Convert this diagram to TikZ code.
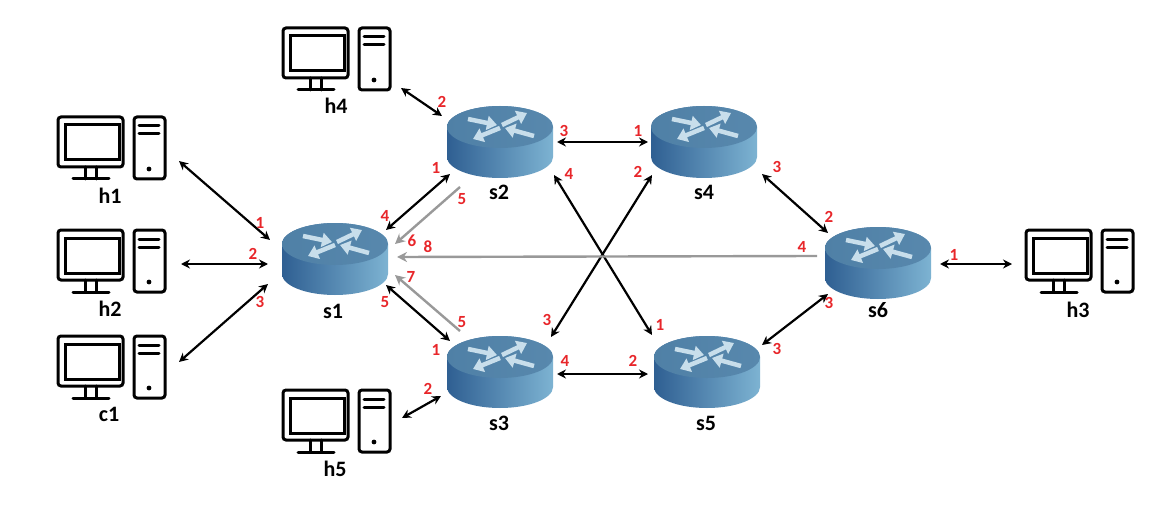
\documentclass[tikz,border=0pt]{standalone}
\usepackage{fontspec}
\setmainfont{Carlito}
\usetikzlibrary{arrows.meta}
\definecolor{rtop}{HTML}{4F80A6}
\definecolor{rtopb}{HTML}{5888AD}
\definecolor{rleft}{HTML}{2F5F92}
\definecolor{rright}{HTML}{7DB3D2}
\definecolor{rarrow}{HTML}{C8DEEB}
\definecolor{lblred}{HTML}{E8262A}
\definecolor{graylink}{HTML}{999999}
\tikzset{
  routerbox/.style={inner sep=0pt,minimum width=106pt,minimum height=72pt},
  pcbox/.style={inner sep=0pt,minimum width=110pt,minimum height=64pt},
  name lbl/.style={font=\fontsize{22}{22}\selectfont\bfseries,text=black,inner sep=0pt},
  port/.style={font=\fontsize{17}{17}\selectfont\bfseries,text=lblred,inner sep=0pt},
  blink/.style={{Stealth[length=9pt,width=9pt]}-{Stealth[length=9pt,width=9pt]},line width=2.2pt,black},
  glink/.style={-{Stealth[length=10pt,width=10pt]},line width=2.4pt,graylink},
  rarr/.style={-{Triangle[length=10pt,width=14pt]},line width=4.5pt,rarrow},
  pcline/.style={line width=3pt,black,line cap=round},
  router/.pic={
    \shade[left color=rleft,right color=rright]
      (-53,0) -- (-53,30) arc[start angle=180,end angle=360,x radius=53pt,y radius=21pt]
      -- (53,0) arc[start angle=0,end angle=180,x radius=53pt,y radius=21pt] -- cycle;
    \shade[left color=rtop,right color=rtopb] (0,0) ellipse[x radius=53pt,y radius=21pt];
    \draw[rarr] (-32,-8) -- (-3,-2);
    \draw[rarr] (2,-2) -- (27,-14);
    \draw[rarr] (0,1) -- (-27,12);
    \draw[rarr] (34,9) -- (5,1);
  },
  computer/.pic={
    \draw[pcline,rounded corners=3pt] (-53,-31) rectangle (12,19);
    \draw[pcline] (-46,-23) rectangle (8,12);
    \draw[pcline] (-26,19) -- (-26,31) (-15,19) -- (-15,31) (-38,31) -- (-2,31);
    \draw[pcline,rounded corners=3pt] (23,-31) rectangle (54,31);
    \draw[pcline] (28,-22) -- (48,-22) (28,-14) -- (48,-14);
    \fill[black] (38,21) circle[radius=2.4pt];
  }
}
\newcommand{\routerat}[2]{\node[routerbox] (#1) at (#2) {}; \pic at (#2) {router};}
\newcommand{\pcat}[2]{\node[pcbox] (#1) at (#2) {}; \pic at (#2) {computer};}
\newcommand{\ppt}[3]{([shift={(#2,#3)}]#1.center)}
\begin{document}
\begin{tikzpicture}[x=1pt,y=-1pt]
\useasboundingbox[fill=white] (0,0) rectangle (1176,508);
\routerat{s1}{335,244}
\routerat{s2}{500,127}
\routerat{s3}{500,357}
\routerat{s4}{704,127}
\routerat{s5}{707,357}
\routerat{s6}{878,248}
\pcat{h1}{111,148}
\pcat{h2}{111,261}
\pcat{c1}{111,367}
\pcat{h4}{336,59}
\pcat{h5}{336,421}
\pcat{h3}{1079,261}
\node[name lbl] (ls1) at (333,311) {s1};
\node[name lbl] (ls2) at (499,192) {s2};
\node[name lbl] (ls3) at (499,423) {s3};
\node[name lbl] (ls4) at (704,192) {s4};
\node[name lbl] (ls5) at (706,423) {s5};
\node[name lbl] (ls6) at (878,310) {s6};
\node[name lbl] (lh1) at (110,196) {h1};
\node[name lbl] (lh2) at (110,309) {h2};
\node[name lbl] (lc1) at (109,414) {c1};
\node[name lbl] (lh4) at (336,106) {h4};
\node[name lbl] (lh5) at (335,469) {h5};
\node[name lbl] (lh3) at (1078,310) {h3};
\draw[blink] \ppt{h1}{68}{13} -- \ppt{s1}{-65}{-4};
\draw[blink] \ppt{h2}{70}{3} -- \ppt{s1}{-67}{20};
\draw[blink] \ppt{c1}{68}{-5} -- \ppt{s1}{-67}{40};
\draw[blink] \ppt{h4}{65}{29} -- \ppt{s2}{-58}{-11};
\draw[blink] \ppt{h5}{66}{-3} -- \ppt{s3}{-59}{39};
\draw[blink] \ppt{s1}{51}{-14} -- \ppt{s2}{-50}{47};
\draw[blink] \ppt{s1}{51}{41} -- \ppt{s3}{-50}{-16};
\draw[blink] \ppt{s2}{57}{15} -- \ppt{s4}{-56}{15};
\draw[blink] \ppt{s3}{57}{17} -- \ppt{s5}{-59}{17};
\draw[blink] \ppt{s2}{54}{48} -- \ppt{s5}{-55}{-22};
\draw[blink] \ppt{s4}{-52}{48} -- \ppt{s3}{51}{-20};
\draw[blink] \ppt{s4}{58}{47} -- \ppt{s6}{-50}{-15};
\draw[blink] \ppt{s5}{55}{-12} -- \ppt{s6}{-50}{46};
\draw[blink] \ppt{s6}{62}{16} -- \ppt{h3}{-67}{3};
\draw[glink] \ppt{s2}{-40}{60} -- \ppt{s1}{60}{0};
\draw[glink] \ppt{s6}{-61}{8} -- \ppt{s1}{62}{13};
\draw[glink] \ppt{s3}{-40}{-26} -- \ppt{s1}{60}{31};
\node[port] (p01) at (260,223) {1};
\node[port] (p02) at (253,254) {2};
\node[port] (p03) at (260,302) {3};
\node[port] (p04) at (385,216) {4};
\node[port] (p05) at (412,241) {6};
\node[port] (p06) at (428,247) {8};
\node[port] (p07) at (411,277) {7};
\node[port] (p08) at (385,302) {5};
\node[port] (p09) at (442,102) {2};
\node[port] (p10) at (436,168) {1};
\node[port] (p11) at (462,199) {5};
\node[port] (p12) at (564,131) {3};
\node[port] (p13) at (569,174) {4};
\node[port] (p14) at (462,322) {5};
\node[port] (p15) at (436,350) {1};
\node[port] (p16) at (428,389) {2};
\node[port] (p17) at (547,320) {3};
\node[port] (p18) at (565,361) {4};
\node[port] (p19) at (638,131) {1};
\node[port] (p20) at (638,172) {2};
\node[port] (p21) at (777,167) {3};
\node[port] (p22) at (660,325) {1};
\node[port] (p23) at (633,361) {2};
\node[port] (p24) at (777,349) {3};
\node[port] (p25) at (829,217) {2};
\node[port] (p26) at (802,247) {4};
\node[port] (p27) at (829,303) {3};
\node[port] (p28) at (954,255) {1};
\end{tikzpicture}
\end{document}
